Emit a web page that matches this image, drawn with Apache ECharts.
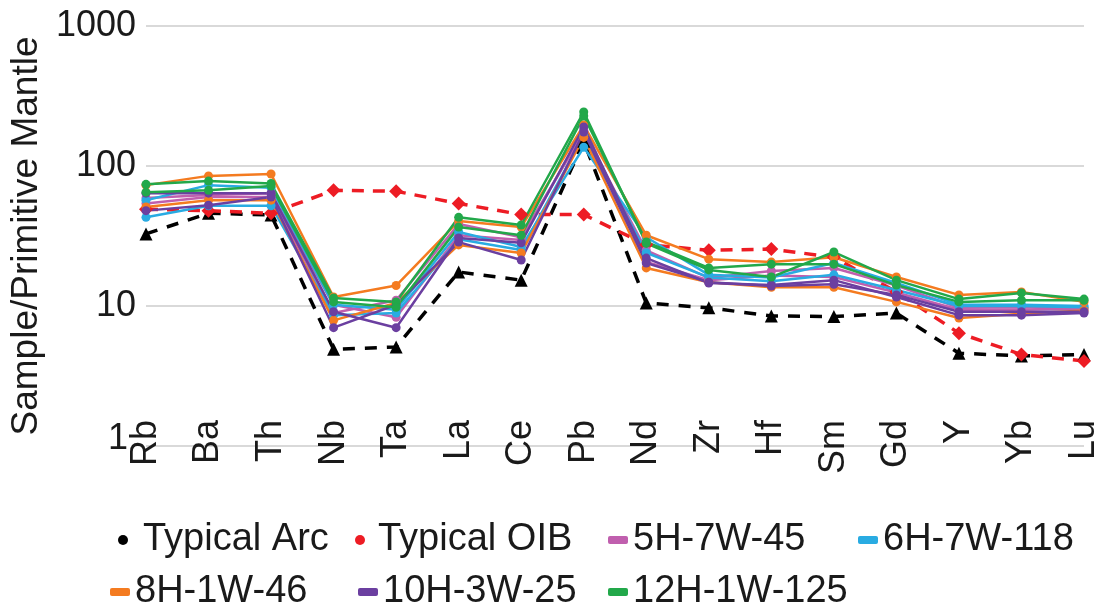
<!DOCTYPE html>
<html>
<head>
<meta charset="utf-8">
<script src="https://cdn.jsdelivr.net/npm/echarts@6/dist/echarts.min.js"></script>
<style>html,body{margin:0;padding:0;background:#fff}#c{width:1102px;height:609px}</style>
</head>
<body>
<div id="c"></div>
<script>
var categories = ['Rb','Ba','Th','Nb','Ta','La','Ce','Pb','Nd','Zr','Hf','Sm','Gd','Y','Yb','Lu'];
var yTicks = [1, 10, 100, 1000];

var typicalArc = [32.7, 46, 44.7, 4.9, 5.1, 17.5, 15.3, 150, 10.5, 9.7, 8.5, 8.4, 8.9, 4.6, 4.4, 4.5];
var typicalOIB = [49, 48, 46, 67, 66, 54, 45, 45, 27.4, 25, 25.5, 22.3, 12.6, 6.4, 4.5, 4.05];

var s5H_a = [54, 60, 60, 8.9, 11, 38.5, 31, 175, 25, 15.9, 17.8, 18.7, 14, 9.7, 9.8, 9.5];
var s5H_b = [59, 62, 64, 10.2, 8.3, 32, 29.6, 180, 20.6, 15.3, 16.5, 16.1, 12.5, 9.4, 9.4, 9.6];
var s6H_a = [57, 73, 70, 10.2, 9.4, 33.8, 26.4, 136, 31, 16.7, 16, 20.3, 14.6, 10.2, 10.2, 10];
var s6H_b = [43, 52, 52, 8.6, 8.9, 30, 25.1, 165, 24, 16, 15, 16.7, 13, 10, 10, 9.8];
var s8H_a = [73, 85, 87.6, 11.6, 14, 40.4, 36.6, 196, 32, 21.6, 20.6, 22.3, 16.1, 12, 12.6, 10.7];
var s8H_b = [51, 57, 57, 7.9, 10.5, 27.3, 23.9, 160, 18.7, 14.8, 13.6, 13.6, 10.7, 8.2, 8.8, 9.3];
var s10H_a = [64, 64, 64, 9.1, 7.0, 30.6, 28.3, 190, 22, 14.6, 14.1, 15.3, 11.6, 8.6, 8.6, 8.9];
var s10H_b = [48, 52.5, 60, 7.0, 10.2, 28.6, 21.3, 175, 20.3, 14.8, 13.9, 14.3, 12, 9.1, 9.1, 9.1];
var s12H_a = [74, 78, 75, 11.4, 10.7, 43, 37.9, 243, 28, 18.1, 16.1, 24.3, 15.3, 11.2, 12.4, 11.2];
var s12H_b = [65, 67, 72, 10.7, 9.8, 36.6, 32, 228, 28.7, 18.7, 19.9, 19.9, 14.1, 10.7, 11, 11];

var FONT = 'Liberation Sans, Arial, sans-serif';
var TXT = '#1a1a1a';

function sample(name, color, data) {
  return {
    name: name, type: 'line', data: data,
    symbol: 'circle', symbolSize: 9,
    lineStyle: {color: color, width: 2.5},
    itemStyle: {color: color},
    emphasis: {disabled: true}
  };
}

function legendItem(name, icon, color, left, top, w, h, pad) {
  return {
    data: [{name: name, icon: icon, itemStyle: {color: color}}],
    left: left, top: top, itemWidth: w, itemHeight: h,
    selectedMode: false,
    textStyle: {fontSize: 38, fontFamily: FONT, color: TXT, padding: [0, 0, 0, pad]}
  };
}

var option = {
  animation: false,
  backgroundColor: '#fff',
  grid: {left: 140, right: 17, top: 26, bottom: 163},
  legend: [
    legendItem('Typical Arc', 'circle', '#000', 113, 516, 10, 10, 10),
    legendItem('Typical OIB', 'circle', '#ed1c24', 350, 516, 10, 10, 8),
    legendItem('5H-7W-45', 'roundRect', '#c05fae', 603, 516, 20, 8, 0),
    legendItem('6H-7W-118', 'roundRect', '#29abe2', 853, 516, 20, 8, 0),
    legendItem('8H-1W-46', 'roundRect', '#f47b20', 105, 568, 20, 8, 0),
    legendItem('10H-3W-25', 'roundRect', '#6b3fa0', 353, 568, 20, 8, 0),
    legendItem('12H-1W-125', 'roundRect', '#22a84a', 603, 568, 20, 8, 0)
  ],
  xAxis: {
    type: 'category', data: categories, boundaryGap: false,
    axisLine: {show: false}, axisTick: {show: false},
    axisLabel: {rotate: 90, interval: 0, fontSize: 36, fontFamily: FONT, color: TXT, margin: -26}
  },
  yAxis: {
    type: 'log', logBase: 10, min: yTicks[0], max: yTicks[yTicks.length - 1],
    name: 'Sample/Primitive Mantle', nameLocation: 'middle', nameGap: 94,
    nameTextStyle: {fontSize: 37, fontFamily: FONT, color: TXT},
    axisLine: {show: false}, axisTick: {show: false},
    axisLabel: {fontSize: 36, fontFamily: FONT, color: TXT, margin: 10,
      formatter: function (v) {
        var r = Math.round(v);
        return r === 1 ? '{one|1}' : String(r);
      },
      rich: {one: {fontSize: 36, fontFamily: FONT, color: TXT, padding: [0, 8, 14, 0]}}
    },
    splitLine: {lineStyle: {color: '#d9d9d9', width: 2}}
  },
  series: [
    {
      name: 'Typical Arc', type: 'line', data: typicalArc,
      symbol: 'triangle', symbolSize: 13,
      lineStyle: {color: '#000', width: 3.5, type: [12, 10]},
      itemStyle: {color: '#000'}, emphasis: {disabled: true}
    },
    {
      name: 'Typical OIB', type: 'line', data: typicalOIB,
      symbol: 'diamond', symbolSize: 14,
      lineStyle: {color: '#ed1c24', width: 3.5, type: [12, 9]},
      itemStyle: {color: '#ed1c24'}, emphasis: {disabled: true}
    },
    sample('5H-7W-45', '#c05fae', s5H_a),
    sample('5H-7W-45', '#c05fae', s5H_b),
    sample('6H-7W-118', '#29abe2', s6H_a),
    sample('6H-7W-118', '#29abe2', s6H_b),
    sample('8H-1W-46', '#f47b20', s8H_a),
    sample('8H-1W-46', '#f47b20', s8H_b),
    sample('10H-3W-25', '#6b3fa0', s10H_a),
    sample('10H-3W-25', '#6b3fa0', s10H_b),
    sample('12H-1W-125', '#22a84a', s12H_a),
    sample('12H-1W-125', '#22a84a', s12H_b)
  ]
};
var chart = echarts.init(document.getElementById('c'));
chart.setOption(option);
</script>
</body>
</html>
